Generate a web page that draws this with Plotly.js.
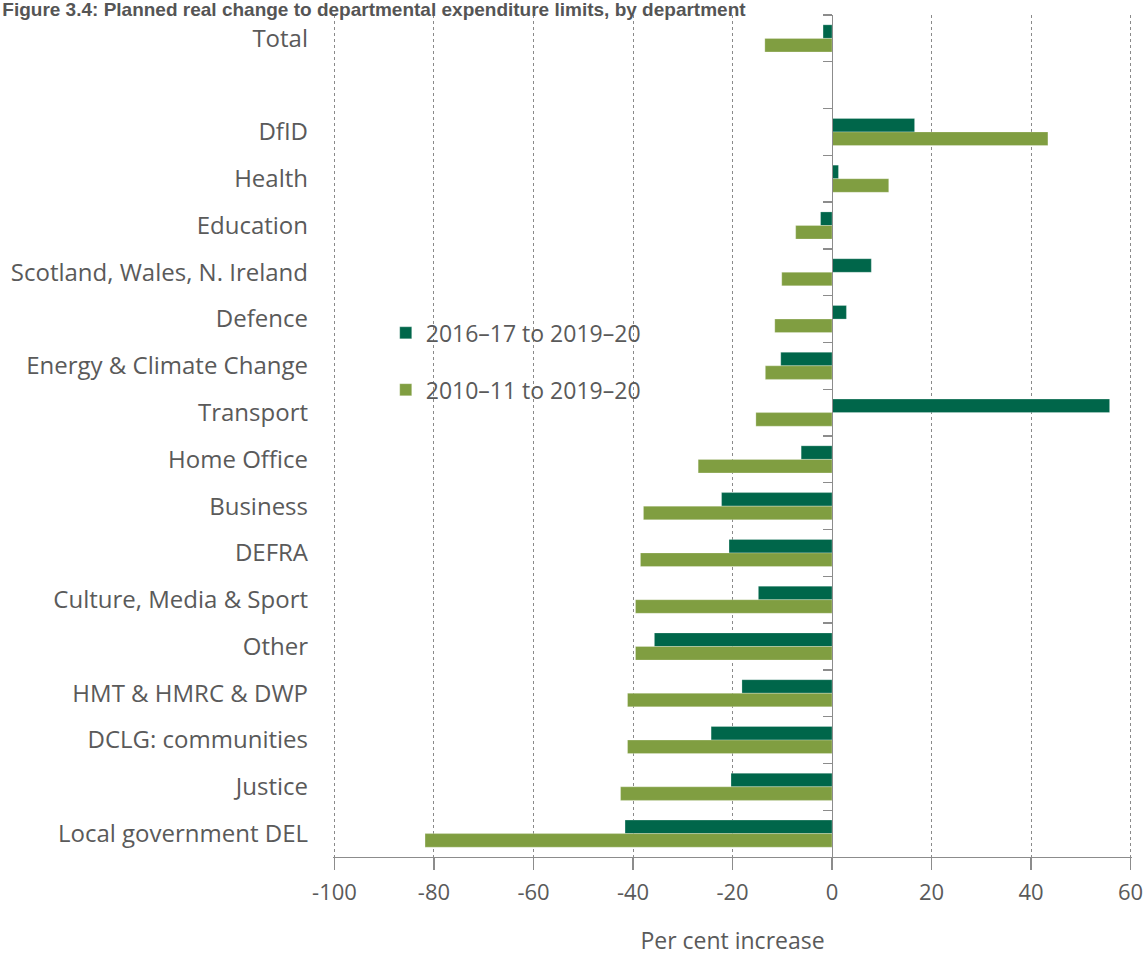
<!DOCTYPE html>
<html>
<head>
<meta charset="utf-8">
<script src="https://cdn.plot.ly/plotly-3.0.1.min.js"></script>
<style>html,body{margin:0;padding:0;background:#fff;}#chart{width:1146px;height:956px;}</style>
</head>
<body>
<div id="chart"></div>
<script>
const categories = ["Total", " ", "DfID", "Health", "Education", "Scotland, Wales, N. Ireland", "Defence",
  "Energy & Climate Change", "Transport", "Home Office", "Business", "DEFRA", "Culture, Media & Sport",
  "Other", "HMT & HMRC & DWP", "DCLG: communities", "Justice", "Local government DEL"];
const change2016 = [-1.8, null, 16.6, 1.3, -2.3, 7.9, 2.9, -10.3, 55.8, -6.2, -22.2, -20.7, -14.8, -35.7, -18.1, -24.3, -20.3, -41.6];
const change2010 = [-13.5, null, 43.4, 11.4, -7.3, -10.1, -11.5, -13.4, -15.3, -26.9, -37.9, -38.5, -39.5, -39.5, -41.1, -41.1, -42.5, -81.8];
const seriesNames = ["2016\u201317 to 2019\u201320", "2010\u201311 to 2019\u201320"];
const xTickVals = [-100, -80, -60, -40, -20, 0, 20, 40, 60];
const xTickText = ["-100", "-80", "-60", "-40", "-20", "0", "20", "40", "60"];

const darkGreen = "#00664A";
const lightGreen = "#809E41";
const textCol = "#5a5a5a";
const fontFam = "'Open Sans', 'Noto Sans', sans-serif";

const traces = [
  {type: "bar", orientation: "h", name: seriesNames[0], y: categories, x: change2016,
   marker: {color: darkGreen, line: {color: "rgba(255,255,255,0.5)", width: 0.5}},
   legendgroup: "a", hoverinfo: "x+y"},
  {type: "bar", orientation: "h", name: seriesNames[1], y: categories, x: change2010,
   marker: {color: lightGreen, line: {color: "rgba(255,255,255,0.5)", width: 0.5}},
   legendgroup: "b", hoverinfo: "x+y"},
  {type: "bar", orientation: "h", y: categories, x: change2016.map(v => 0), yaxis: "y2",
   showlegend: false, hoverinfo: "skip", opacity: 0, marker: {color: "rgba(0,0,0,0)"}}
];

const xMin = -100.3, xMax = 60.3;

const layout = {
  width: 1146, height: 956,
  margin: {l: 333, r: 14, t: 15, b: 99},
  paper_bgcolor: "#fff", plot_bgcolor: "#fff",
  font: {family: fontFam, size: 24, color: textCol},
  title: {
    text: "<b>Figure 3.4: Planned real change to departmental expenditure limits, by department</b>",
    font: {family: "'Liberation Sans', Arial, sans-serif", size: 19, color: "#555"},
    xref: "container", yref: "container", x: 0.002, xanchor: "left", y: 0.997, yanchor: "top", pad: {t: 0, l: 0}
  },
  barmode: "group",
  bargap: 0.42,
  bargroupgap: 0,
  showlegend: true,
  legend: {
    x: 0.066, y: 0.648, xanchor: "left", yanchor: "top",
    bgcolor: "rgba(0,0,0,0)", font: {size: 23, color: textCol, family: fontFam},
    tracegroupgap: 24, traceorder: "grouped"
  },
  xaxis: {
    range: [xMin, xMax], tickmode: "array", tickvals: xTickVals, ticktext: xTickText,
    showgrid: true, gridcolor: "#8a8a8a", griddash: "dot", gridwidth: 1,
    zeroline: false,
    showline: true, linecolor: "#8c8c8c", linewidth: 1.3,
    ticks: "outside", ticklen: 12, tickcolor: "#8c8c8c", tickwidth: 1.3,
    tickfont: {size: 22, color: textCol},
    ticklabelstandoff: 3,
    title: {text: "Per cent increase", font: {size: 23, color: textCol}, standoff: 34},
    fixedrange: true
  },
  yaxis: {
    type: "category", categoryorder: "array", categoryarray: categories,
    range: [17.5, -0.5],
    showgrid: false, zeroline: false, showline: false, ticks: "",
    tickfont: {size: 24, color: textCol},
    ticklabelstandoff: 24,
    fixedrange: true
  },
  yaxis2: {
    type: "category", categoryorder: "array", categoryarray: categories,
    overlaying: "y", matches: "y", anchor: "free", side: "left",
    position: (0 - xMin) / (xMax - xMin),
    range: [17.5, -0.5],
    showgrid: false, zeroline: false,
    showline: true, linecolor: "#8c8c8c", linewidth: 1.3,
    ticks: "outside", tickson: "boundaries", ticklen: 9, tickcolor: "#8c8c8c", tickwidth: 1.3,
    showticklabels: false,
    fixedrange: true
  }
};

Plotly.newPlot("chart", traces, layout, {displayModeBar: false, staticPlot: true});
</script>
</body>
</html>
